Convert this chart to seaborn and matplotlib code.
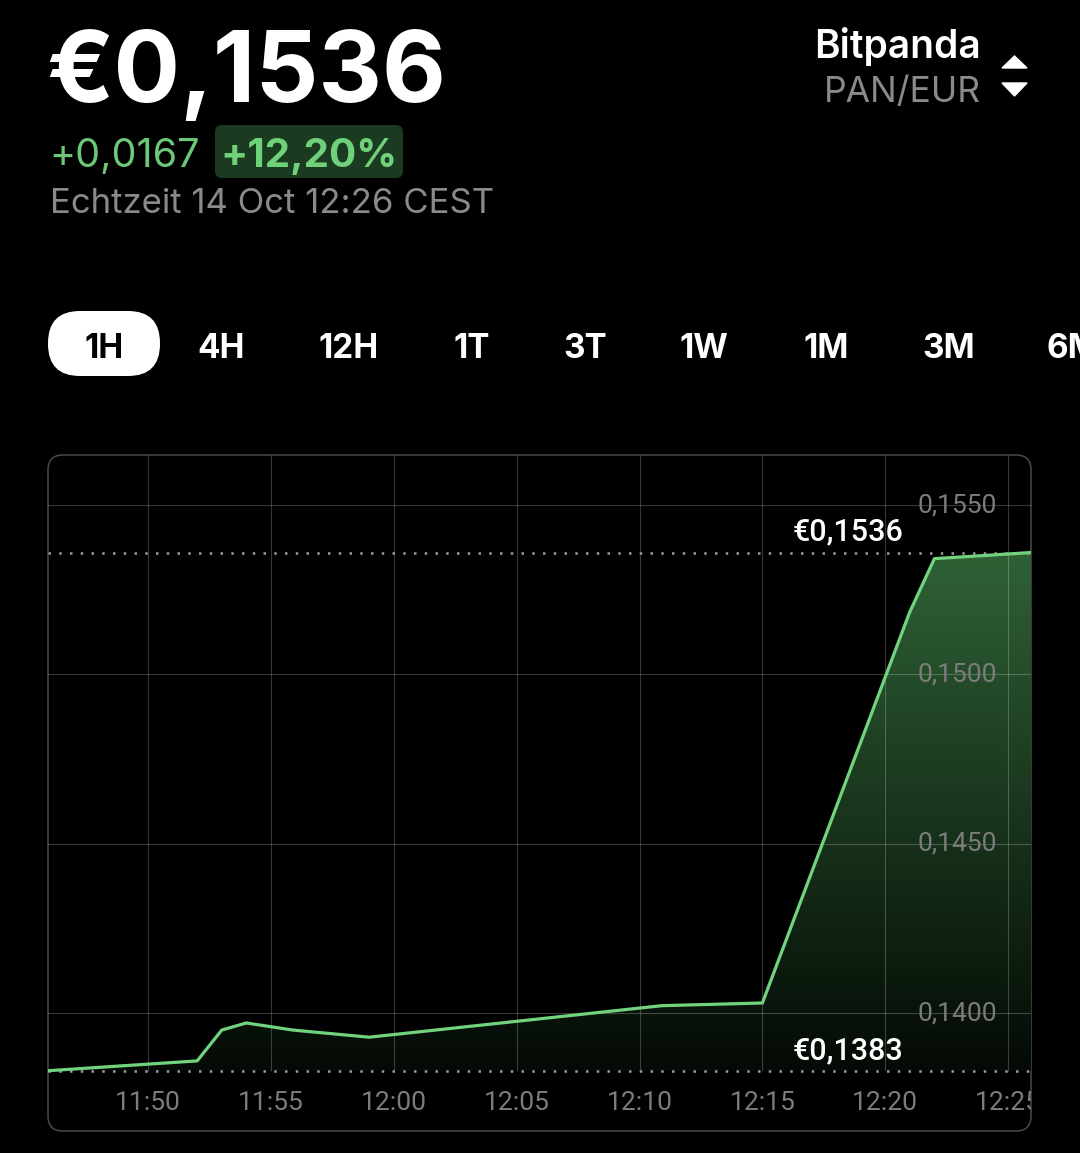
import numpy as np
import seaborn as sns
import matplotlib.pyplot as plt
from matplotlib.patches import FancyBboxPatch, Polygon
from matplotlib.colors import LinearSegmentedColormap

# ==========================================
# DATA  (minutes after 11:45, PAN/EUR price in EUR)
# ==========================================
minutes = [0.93, 7.0, 8.0, 9.0, 10.9, 14.0, 25.9, 30.0, 36.0, 37.0, 40.93]
prices = [0.1383, 0.13859, 0.13950, 0.13971, 0.13950, 0.13929, 0.14022, 0.14030, 0.15185, 0.15342, 0.1536]

x_ticks = [5, 10, 15, 20, 25, 30, 35, 40]
x_labels = ['11:50', '11:55', '12:00', '12:05', '12:10', '12:15', '12:20', '12:25']
y_ticks = [0.1400, 0.1450, 0.1500, 0.1550]
y_labels = ['0,1400', '0,1450', '0,1500', '0,1550']
low_price = 0.1383
high_price = 0.1536

tabs = ['1H', '4H', '12H', '1T', '3T', '1W', '1M', '3M', '6M']
price_text = '€0,1536'
change_text = '+0,0167'
pct_text = '+12,20%'
time_text = 'Echtzeit 14 Oct 12:26 CEST'

GREEN = '#72d37e'
GRAY = '#8a8a8a'
HEAD_FONT = ['Inter', 'DejaVu Sans']
CHART_FONT = ['Roboto', 'DejaVu Sans']

sns.set_style('dark')
plt.rcParams['font.family'] = CHART_FONT

W, H = 1080, 1153
fig = plt.figure(figsize=(W / 100, H / 100), dpi=100, facecolor='black')

# overlay in pixel coordinates for header / frame
bg = fig.add_axes([0, 0, 1, 1])
bg.set_xlim(0, W)
bg.set_ylim(H, 0)
bg.axis('off')

bg.text(46, 102, price_text, color='white', fontsize=71, fontweight='bold',
        family=HEAD_FONT, ha='left', va='baseline')
bg.text(49, 167, change_text, color='#6cc877', fontsize=28.5, family=HEAD_FONT,
        ha='left', va='baseline')
bg.add_patch(FancyBboxPatch((215, 125), 188, 53, boxstyle='round,pad=0,rounding_size=7',
                            facecolor='#1b3b20', edgecolor='none'))
bg.text(309, 167, pct_text, color='#6fd27b', fontsize=29, fontweight='bold',
        family=HEAD_FONT, ha='center', va='baseline')
bg.text(50, 213, time_text, color=GRAY, fontsize=25, family=HEAD_FONT,
        ha='left', va='baseline')

bg.text(981, 58, 'Bitpanda', color='white', fontsize=28, fontweight='semibold',
        family=HEAD_FONT, ha='right', va='baseline')
bg.text(981, 102, 'PAN/EUR', color=GRAY, fontsize=25.5, family=HEAD_FONT,
        ha='right', va='baseline')
bg.add_patch(Polygon([(1002, 68), (1027, 68), (1014.5, 56)], closed=True, color='white'))
bg.add_patch(Polygon([(1002, 83), (1027, 83), (1014.5, 96)], closed=True, color='white'))

# time range tabs (last one runs off the screen edge like the reference)
tab_x = [104, 221, 349, 472, 585, 704, 826, 949, 1073]
bg.add_patch(FancyBboxPatch((48, 311), 112, 65, boxstyle='round,pad=0,rounding_size=32',
                            facecolor='white', edgecolor='none'))
for i, (lab, tx) in enumerate(zip(tabs, tab_x)):
    bg.text(tx, 358, lab, color='black' if i == 0 else 'white', fontsize=24,
            fontweight='bold', family=HEAD_FONT, ha='center', va='baseline')

# chart frame
box_l, box_t, box_r, box_b = 48, 455, 1031, 1131
bg.add_patch(FancyBboxPatch((box_l, box_t), box_r - box_l, box_b - box_t,
                            boxstyle='round,pad=0,rounding_size=15',
                            facecolor='none', edgecolor='#4a4a4a', linewidth=1.1))

# ==========================================
# CHART
# ==========================================
ax = fig.add_axes([box_l / W, (H - box_b) / H, (box_r - box_l) / W, (box_b - box_t) / H])
ax.set_facecolor('none')
xmin, xmax = minutes[0], minutes[-1]
ymin, ymax = 0.13652, 0.15648

grid_kw = dict(color='white', alpha=0.22, lw=0.8, zorder=3)
for yt in y_ticks:
    ax.axhline(yt, **grid_kw)
ax.vlines(x_ticks, low_price, ymax, **grid_kw)

# gradient fill under the line
poly = ax.fill_between(minutes, prices, low_price, color='none', lw=0)
clip = poly.get_paths()[0]
cmap = LinearSegmentedColormap.from_list('fill', ['#040a05', '#2f6135'])
grad = np.linspace(0, 1, 256).reshape(-1, 1)
im = ax.imshow(grad, extent=[xmin, xmax, low_price, high_price], origin='lower',
               aspect='auto', cmap=cmap, zorder=1, interpolation='bicubic')
im.set_clip_path(clip, transform=ax.transData)

sns.lineplot(x=minutes, y=prices, ax=ax, color=GREEN, lw=2.3, sort=False, zorder=5)

dot_kw = dict(color='#9c9c9c', lw=1.8, linestyle=(0, (1, 3.3)), zorder=4)
ax.axhline(high_price, **dot_kw)
ax.axhline(low_price, **dot_kw)

def euro(p):
    return '€' + f'{p:.4f}'.replace('.', ',')

for p in (high_price, low_price):
    ax.annotate(euro(p), xy=(0.8698, p), xycoords=('axes fraction', 'data'),
                xytext=(0, 8.5), textcoords='offset points', ha='right', va='baseline',
                color='white', fontsize=22, fontweight='medium', zorder=6)

for yt, lab in zip(y_ticks, y_labels):
    ax.text(0.9654, yt, lab, transform=ax.get_yaxis_transform(), ha='right',
            va='center', color='#7c7c7c', fontsize=19, zorder=6)
for xt, lab in zip(x_ticks, x_labels):
    ax.text(xt, 0.0414, lab, transform=ax.get_xaxis_transform(), ha='center',
            va='center', color='#7c7c7c', fontsize=19, clip_on=True, zorder=6)

ax.set_xlim(xmin, xmax)
ax.set_ylim(ymin, ymax)
ax.set_xticks([])
ax.set_yticks([])
ax.set_xlabel('')
ax.set_ylabel('')
ax.grid(False)
for s in ax.spines.values():
    s.set_visible(False)

plt.savefig('out.png', dpi=100, facecolor='black')
